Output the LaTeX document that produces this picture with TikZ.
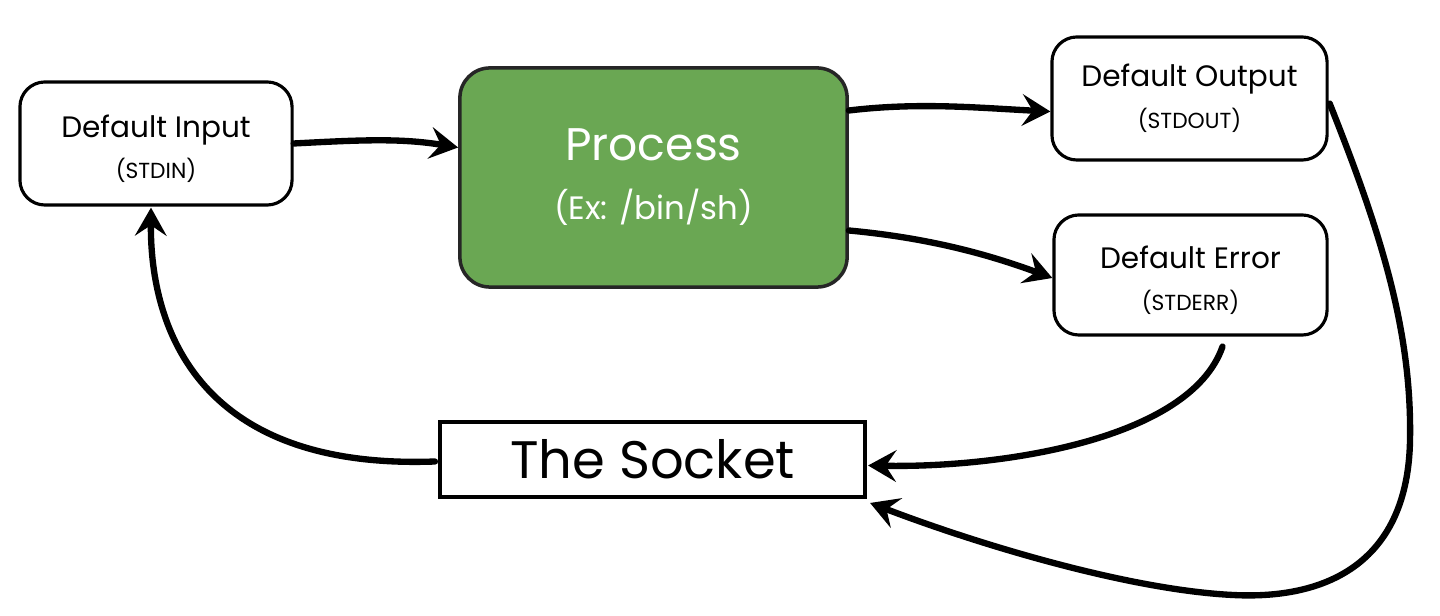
\documentclass[tikz,border=0pt]{standalone}
\usepackage{fontspec}
\setmainfont{Poppins}
\usetikzlibrary{arrows.meta,calc}
\definecolor{procgreen}{HTML}{6AA753}
\tikzset{
  box/.style={draw=black, line width=0.9pt, rounded corners=0.25cm, fill=white, align=center, inner sep=0pt},
  procbox/.style={draw=black!85, line width=1pt, rounded corners=0.3cm, fill=procgreen, text=white, align=center, inner sep=0pt},
  sockbox/.style={draw=black, line width=1.1pt, fill=white, inner sep=0pt},
  arr/.style={line width=1.8pt, line cap=round, -{Stealth[length=8pt,width=9pt,inset=3pt]}},
  big/.style={font=\fontsize{8.4}{12}\selectfont},
  bigtight/.style={font=\fontsize{8.4}{11.7}\selectfont},
}
\newcommand{\smalltxt}{\fontsize{6.2}{12}\selectfont}
\newcommand{\smalltight}{\fontsize{6.2}{11.7}\selectfont}
\begin{document}
\begin{tikzpicture}[x=0.01cm,y=-0.01cm]
\path[use as bounding box] (0,0) rectangle (1440,616);
\node[box, bigtight, minimum width=2.72cm, minimum height=1.23cm] (in) at (156,143.5)
  {\rule{0pt}{9.2pt}Default Input\\{\smalltight (STDIN)}};
\node[procbox, minimum width=3.87cm, minimum height=2.19cm, font=\fontsize{13}{16.8}\selectfont] (proc) at (653.5,177.5)
  {Process\\{\fontsize{9.2}{16.8}\selectfont (Ex: /bin/sh)}};
\node[box, big, minimum width=2.75cm, minimum height=1.23cm] (out) at (1189.5,98.5)
  {Default Output\\{\smalltxt (STDOUT)}};
\node[box, big, minimum width=2.73cm, minimum height=1.2cm] (err) at (1190.5,275)
  {\rule{0pt}{9.2pt}Default Error\\{\smalltxt (STDERR)}};
\node[sockbox, minimum width=4.25cm, minimum height=0.75cm, font=\fontsize{15}{19}\selectfont] (sock) at (652.5,459.5)
  {The Socket};
% connectors
\draw[arr] (in.east) .. controls (360,140) and (400,138) .. ($(proc.west)+(0,-30)$);
\draw[arr] ($(proc.east)+(0,-67)$) .. controls (920,102) and (980,108) .. ($(out.west)+(0,13)$);
\draw[arr] ($(proc.east)+(0,53)$) .. controls (930,238) and (990,255) .. ($(err.west)+(0,3)$);
\draw[arr] ($(err.south)+(32,10)$) .. controls (1190,440) and (1000,468) .. ($(sock.east)+(1,6)$);
\draw[arr] ($(out.east)+(1,5)$) .. controls (1380,230) and (1412,330) .. (1410,440)
  .. controls (1408,560) and (1330,600) .. (1233,595)
  .. controls (1130,590) and (980,545) .. ($(sock.south east)+(3,4)$);
\draw[arr] ($(sock.west)+(-3,2)$) .. controls (200,470) and (150,330) .. ($(in.south)+(-5,1)$);
\end{tikzpicture}
\end{document}
